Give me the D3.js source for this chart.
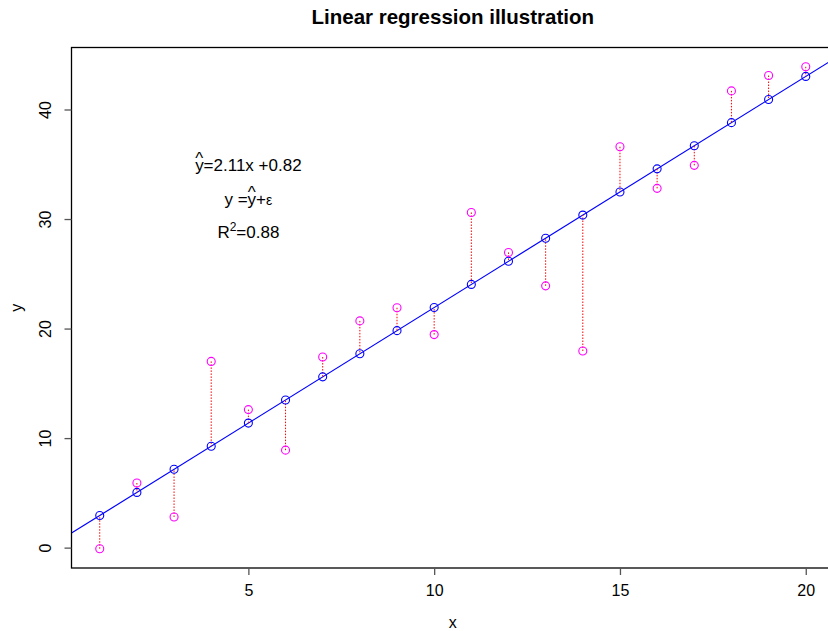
<!DOCTYPE html>
<html>
<head>
<meta charset="utf-8">
<script src="https://cdn.jsdelivr.net/npm/d3@7"></script>
<style>
  body { margin: 0; background: #fff; }
  text { font-family: "Liberation Sans", Arial, sans-serif; }
</style>
</head>
<body>
<script>
var xs = [1, 2, 3, 4, 5, 6, 7, 8, 9, 10, 11, 12, 13, 14, 15, 16, 17, 18, 19, 20];
var ys = [-0.1, 5.9, 2.8, 17.0, 12.6, 8.9, 17.4, 20.7, 21.9, 19.45,
          30.6, 26.95, 23.9, 17.95, 36.6, 32.8, 34.9, 41.7, 43.1, 43.9];
var slope = 2.11;
var intercept = 0.82;
var xTicks = [5, 10, 15, 20];
var yTicks = [0, 10, 20, 30, 40];

var W = 828, H = 631;
var box = { left: 71.5, right: 834, top: 47.5, bottom: 568 };

var svg = d3.select('body').append('svg')
  .attr('width', W)
  .attr('height', H);

// R-style 4% padding on both axes
var xPad = (d3.max(xs) - d3.min(xs)) * 0.04;
var yPad = (d3.max(ys) - d3.min(ys)) * 0.04;
var xScale = d3.scaleLinear()
  .domain([d3.min(xs) - xPad, d3.max(xs) + xPad])
  .range([box.left, box.right]);
var yScale = d3.scaleLinear()
  .domain([d3.min(ys) - yPad, d3.max(ys) + yPad])
  .range([box.bottom, box.top]);

var fitted = xs.map(function(x) { return slope * x + intercept; });

svg.append('defs').append('clipPath')
  .attr('id', 'plotclip')
  .append('rect')
  .attr('x', box.left).attr('y', box.top)
  .attr('width', box.right - box.left).attr('height', box.bottom - box.top);

var plot = svg.append('g').attr('clip-path', 'url(#plotclip)');

// regression line across the whole plot region
var xd = xScale.domain();
plot.append('line')
  .attr('x1', xScale(xd[0])).attr('y1', yScale(slope * xd[0] + intercept))
  .attr('x2', xScale(xd[1])).attr('y2', yScale(slope * xd[1] + intercept))
  .attr('stroke', '#0000ff')
  .attr('stroke-width', 1.2);

// residuals
plot.selectAll('.resid')
  .data(xs)
  .enter().append('line')
  .attr('class', 'resid')
  .attr('x1', function(d) { return xScale(d); })
  .attr('x2', function(d) { return xScale(d); })
  .attr('y1', function(d, i) { return yScale(ys[i]); })
  .attr('y2', function(d, i) { return yScale(fitted[i]); })
  .attr('stroke', '#ff0000')
  .attr('stroke-width', 1)
  .attr('stroke-dasharray', '1.5,1.5');

// fitted points
plot.selectAll('.fit')
  .data(xs)
  .enter().append('circle')
  .attr('cx', function(d) { return xScale(d); })
  .attr('cy', function(d, i) { return yScale(fitted[i]); })
  .attr('r', 4)
  .attr('fill', 'none')
  .attr('stroke', '#0000ff')
  .attr('stroke-width', 1.1);

// observed points
plot.selectAll('.obs')
  .data(xs)
  .enter().append('circle')
  .attr('cx', function(d) { return xScale(d); })
  .attr('cy', function(d, i) { return yScale(ys[i]); })
  .attr('r', 4)
  .attr('fill', 'none')
  .attr('stroke', '#ff00ff')
  .attr('stroke-width', 1.1);

// box
svg.append('rect')
  .attr('x', box.left).attr('y', box.top)
  .attr('width', box.right - box.left).attr('height', box.bottom - box.top)
  .attr('fill', 'none')
  .attr('stroke', '#000')
  .attr('stroke-width', 1.3);

// axes
var xAxis = svg.append('g')
  .attr('transform', 'translate(0,' + box.bottom + ')')
  .call(d3.axisBottom(xScale).tickValues(xTicks).tickSize(7).tickPadding(10).tickFormat(d3.format('d')));
xAxis.select('.domain').remove();
xAxis.selectAll('text').attr('font-size', 16).attr('fill', '#000')
  .style('font-family', '"Liberation Sans", Arial, sans-serif');
xAxis.selectAll('line').attr('stroke', '#555').attr('stroke-width', 1.3);

var yAxis = svg.append('g')
  .attr('transform', 'translate(' + box.left + ',0)')
  .call(d3.axisLeft(yScale).tickValues(yTicks).tickSize(7).tickFormat(d3.format('d')));
yAxis.select('.domain').remove();
yAxis.selectAll('line').attr('stroke', '#555').attr('stroke-width', 1.3);
yAxis.selectAll('text')
  .attr('font-size', 16).attr('fill', '#000')
  .style('font-family', '"Liberation Sans", Arial, sans-serif')
  .attr('x', null)
  .attr('text-anchor', 'middle')
  .attr('transform', 'translate(-26,0) rotate(-90)')
  .attr('y', 0).attr('dy', '0.35em');

// titles
svg.append('text')
  .attr('x', (box.left + box.right) / 2).attr('y', 24)
  .attr('text-anchor', 'middle')
  .attr('font-size', 20.5).attr('font-weight', 'bold')
  .text('Linear regression illustration');

svg.append('text')
  .attr('x', (box.left + box.right) / 2).attr('y', 628)
  .attr('text-anchor', 'middle')
  .attr('font-size', 16)
  .text('x');

svg.append('text')
  .attr('transform', 'translate(22,' + ((box.top + box.bottom) / 2) + ') rotate(-90)')
  .attr('text-anchor', 'middle')
  .attr('font-size', 16)
  .text('y');

// annotations
var ax = xScale(5);
var fs = 17;
var t1 = svg.append('text').attr('x', ax).attr('y', yScale(34.9) + 6)
  .attr('text-anchor', 'middle').attr('font-size', fs);
t1.append('tspan').text('y');
t1.append('tspan').attr('dx', -8.3).attr('dy', -7).text('^');
t1.append('tspan').attr('dx', 0.3).attr('dy', 7).text('=2.11x +0.82');

var t2 = svg.append('text').attr('x', ax).attr('y', yScale(31.8) + 6)
  .attr('text-anchor', 'middle').attr('font-size', fs);
t2.append('tspan').text('y =y');
t2.append('tspan').attr('dx', -8.3).attr('dy', -7).text('^');
t2.append('tspan').attr('dx', 0.3).attr('dy', 7).text('+');
t2.append('tspan').attr('font-size', 14).text('ε');

var t3 = svg.append('text').attr('x', ax).attr('y', yScale(28.8) + 6)
  .attr('text-anchor', 'middle').attr('font-size', fs);
t3.append('tspan').text('R');
t3.append('tspan').attr('dy', -7).attr('font-size', 12).text('2');
t3.append('tspan').attr('dy', 7).text('=0.88');
</script>
</body>
</html>
